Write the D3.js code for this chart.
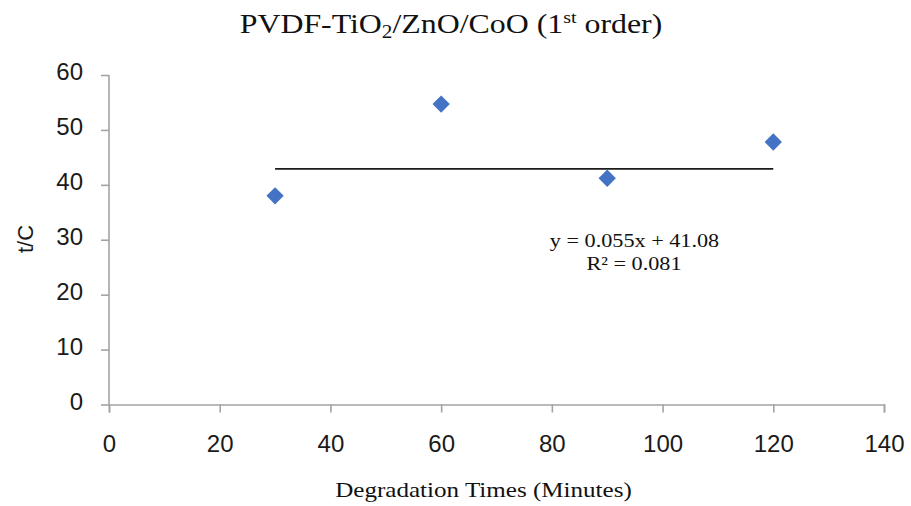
<!DOCTYPE html>
<html>
<head>
<meta charset="utf-8">
<script src="https://cdn.jsdelivr.net/npm/d3@7"></script>
<style>
  html, body { margin: 0; padding: 0; background: #fff; }
  svg { display: block; }
</style>
</head>
<body>
<svg id="chart" width="911" height="506"></svg>
<script>
// Degradation time (minutes) and t/C values
const times = [30, 60, 90, 120];
const tOverC = [38.0, 54.7, 41.2, 47.8];

// Trend line endpoints as drawn
const trendX = [30, 120];
const trendY = [42.9, 42.9];

const xTicks = [0, 20, 40, 60, 80, 100, 120, 140];
const yTicks = [0, 10, 20, 30, 40, 50, 60];

const equationText = "y = 0.055x + 41.08";
const r2Value = "0.081";

const svg = d3.select("#chart");
const margin = { left: 109, right: 27, top: 75, bottom: 101.5 };
const W = 911, H = 506;

const x = d3.scaleLinear().domain([0, 140]).range([margin.left, W - margin.right]);
const y = d3.scaleLinear().domain([0, 60]).range([H - margin.bottom, margin.top]);

const axisColor = "#a3a3a3";
const sans = "'Liberation Sans', Arial, sans-serif";
const serif = "'Liberation Serif', 'Times New Roman', serif";

// X axis
const gx = svg.append("g")
  .attr("transform", `translate(0,${y(0)})`)
  .call(d3.axisBottom(x).tickValues(xTicks).tickSize(8).tickSizeOuter(8).tickPadding(22));
// Y axis
const gy = svg.append("g")
  .attr("transform", `translate(${x(0)},0)`)
  .call(d3.axisLeft(y).tickValues(yTicks).tickSize(8).tickSizeOuter(0).tickPadding(18));

[gx, gy].forEach(g => {
  g.select(".domain").attr("stroke", axisColor).attr("stroke-width", 1.6);
  g.selectAll(".tick line").attr("stroke", axisColor).attr("stroke-width", 1.6);
  g.selectAll(".tick text")
    .attr("fill", "#1a1a1a")
    .style("font-family", sans)
    .style("font-size", "24px");
});
gx.selectAll(".tick text").attr("dy", "0.71em");
gy.selectAll(".tick text").attr("dy", "0.2em");
// Y domain drawn without outer ticks
gy.select(".domain").attr("d", `M0,${y(60)}V${y(0)}`);

// Trend line
svg.append("line")
  .attr("x1", x(trendX[0])).attr("y1", y(trendY[0]))
  .attr("x2", x(trendX[1])).attr("y2", y(trendY[1]))
  .attr("stroke", "#1c1c1c")
  .attr("stroke-width", 1.6);

// Diamond markers
const diamond = d3.symbol().type(d3.symbolSquare).size(150);
svg.append("g").selectAll("path")
  .data(times.map((t, i) => ({ t, v: tOverC[i] })))
  .join("path")
  .attr("d", diamond)
  .attr("transform", d => `translate(${x(d.t)},${y(d.v)}) rotate(45)`)
  .attr("fill", "#4472C4");

// Title
const title = svg.append("text")
  .attr("transform", "translate(451,33) scale(1.18,1)")
  .attr("text-anchor", "middle")
  .style("font-family", serif)
  .style("font-size", "27px")
  .attr("fill", "#111");
title.append("tspan").text("PVDF-TiO");
title.append("tspan").text("2").attr("dy", 5).style("font-size", "18px");
title.append("tspan").text("/ZnO/CoO (1").attr("dy", -5);
title.append("tspan").text("st").attr("dy", -10).style("font-size", "17px");
title.append("tspan").text(" order)").attr("dy", 10);

// Equation and R²
svg.append("text")
  .attr("transform", "translate(634.5,247) scale(1.17,1)")
  .attr("text-anchor", "middle")
  .style("font-family", serif)
  .style("font-size", "19px")
  .attr("fill", "#111")
  .text(equationText);
svg.append("text")
  .attr("transform", "translate(634,270) scale(1.17,1)")
  .attr("text-anchor", "middle")
  .style("font-family", serif)
  .style("font-size", "19px")
  .attr("fill", "#111")
  .text("R² = " + r2Value);

// Axis titles
svg.append("text")
  .attr("transform", "translate(483.5,497) scale(1.14,1)")
  .attr("text-anchor", "middle")
  .style("font-family", serif)
  .style("font-size", "22px")
  .attr("fill", "#111")
  .text("Degradation Times (Minutes)");

svg.append("text")
  .attr("transform", "translate(33,239) rotate(-90)")
  .attr("text-anchor", "middle")
  .style("font-family", sans)
  .style("font-size", "22px")
  .attr("fill", "#1a1a1a")
  .text("t/C");
</script>
</body>
</html>
